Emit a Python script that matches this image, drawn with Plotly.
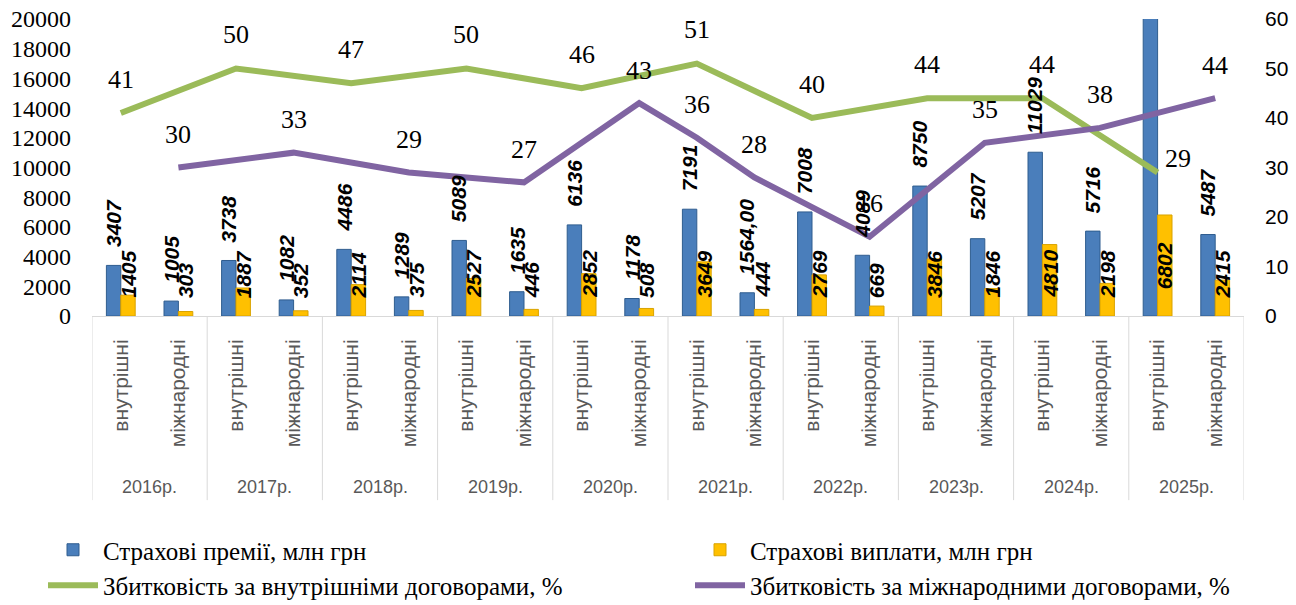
import plotly.graph_objects as go

# ---------------- data ----------------
years = ['2016р.', '2017р.', '2018р.', '2019р.', '2020р.',
         '2021р.', '2022р.', '2023р.', '2024р.', '2025р.']
kinds = ['внутрішні', 'міжнародні']

premiums = [3407, 1005, 3738, 1082, 4486, 1289, 5089, 1635, 6136, 1178,
            7191, 1564, 7008, 4089, 8750, 5207, 11029, 5716, 23455, 5487]
premium_labels = ['3407', '1005', '3738', '1082', '4486', '1289', '5089', '1635', '6136', '1178',
                  '7191', '1564,00', '7008', '4089', '8750', '5207', '11029', '5716', '23455', '5487']
payouts = [1405, 303, 1887, 352, 2114, 375, 2527, 446, 2852, 508,
           3649, 444, 2769, 669, 3846, 1846, 4810, 2198, 6802, 2415]

loss_domestic = [41, None, 50, None, 47, None, 50, None, 46, None,
                 51, None, 40, None, 44, None, 44, None, 29, None]
loss_international = [None, 30, None, 33, None, 29, None, 27, None, 43,
                      36, 28, None, 16, None, 35, None, 38, None, 44]

Y_MAX = 20000
Y2_MAX = 60

SERIF = 'Liberation Serif, Times New Roman, DejaVu Serif, serif'
SANS = 'Liberation Sans, Arial, DejaVu Sans, sans-serif'

# ---------------- figure ----------------
n = len(premiums)
xs = list(range(n))
tick_text = [kinds[i % 2] for i in xs]

fig = go.Figure()
fig.add_trace(go.Bar(
    x=xs, y=premiums, name='Страхові премії, млн грн', legend='legend', legendgroup='a',
    marker=dict(color='#4A7EBB', line=dict(color='#2F5D8F', width=1)),
))
fig.add_trace(go.Bar(
    x=xs, y=payouts, name='Страхові виплати, млн грн', legend='legend2', legendgroup='b',
    marker=dict(color='#FFC000', line=dict(color='#D9A300', width=1)),
))
fig.add_trace(go.Scatter(
    x=xs, y=loss_domestic, yaxis='y2', mode='lines', connectgaps=True,
    name='Збитковість за внутрішніми договорами, %', legend='legend', legendgroup='c',
    line=dict(color='#9BBB59', width=6),
))
fig.add_trace(go.Scatter(
    x=xs, y=loss_international, yaxis='y2', mode='lines', connectgaps=True,
    name='Збитковість за міжнародними договорами, %', legend='legend2', legendgroup='d',
    line=dict(color='#8064A2', width=6),
))

annotations = []
bar_font = dict(family=SANS, size=21, color='black')
# premium labels (above bars)
for i, (v, t) in enumerate(zip(premiums, premium_labels)):
    if v > Y_MAX:
        continue
    annotations.append(dict(x=i - 0.125, y=v, xref='x', yref='y', text='<b><i>%s</i></b>' % t,
                            textangle=-90, showarrow=False, xanchor='center', yanchor='bottom',
                            yshift=16, font=bar_font))
# payout labels
for i, v in enumerate(payouts):
    if v / 2 > 2900:
        annotations.append(dict(x=i + 0.125, y=v / 2, xref='x', yref='y', text='<b><i>%d</i></b>' % v,
                                textangle=-90, showarrow=False, xanchor='center', yanchor='middle',
                                font=bar_font))
    else:
        annotations.append(dict(x=i + 0.125, y=0, xref='x', yref='y', text='<b><i>%d</i></b>' % v,
                                textangle=-90, showarrow=False, xanchor='center', yanchor='bottom',
                                yshift=16, font=bar_font))
# line labels
line_font = dict(family=SERIF, size=26, color='black')
for i, v in enumerate(loss_domestic):
    if v is None:
        continue
    dx, dy = (20, 14) if i == n - 2 else (0, 34)
    annotations.append(dict(x=i, y=v, xref='x', yref='y2', text=str(v), showarrow=False,
                            xshift=dx, yshift=dy, font=line_font))
for i, v in enumerate(loss_international):
    if v is None:
        continue
    annotations.append(dict(x=i, y=v, xref='x', yref='y2', text=str(v), showarrow=False,
                            yshift=33, font=line_font))
# year labels
for k, yr in enumerate(years):
    annotations.append(dict(x=2 * k + 0.5, y=-0.576, xref='x', yref='paper', text=yr,
                            yanchor='middle', showarrow=False,
                            font=dict(family=SANS, size=18, color='#595959')))

shapes = []
for k in range(len(years) + 1):
    shapes.append(dict(type='line', xref='x', yref='paper', x0=2 * k - 0.5, x1=2 * k - 0.5,
                       y0=0, y1=-0.62, line=dict(color='#D9D9D9', width=1)))

legend_common = dict(orientation='v', xref='container', yref='container',
                     xanchor='left', yanchor='top', itemwidth=50, tracegroupgap=0,
                     font=dict(family=SERIF, size=25, color='black'),
                     bgcolor='rgba(0,0,0,0)')

fig.update_layout(
    width=1296, height=605,
    margin=dict(l=92, r=52, t=19, b=289, autoexpand=False),
    paper_bgcolor='white', plot_bgcolor='white',
    barmode='group', bargap=0.5, bargroupgap=0,
    showlegend=True,
    legend=dict(x=43 / 1296, y=1 - 527 / 605, **legend_common),
    legend2=dict(x=690 / 1296, y=1 - 527 / 605, **legend_common),
    xaxis=dict(range=[-0.5, n - 0.5], tickmode='array', tickvals=xs, ticktext=tick_text,
               tickangle=-90, showline=True, linecolor='#D9D9D9', linewidth=1,
               showgrid=False, zeroline=False, ticks='', ticklabelstandoff=14,
               tickfont=dict(family=SANS, size=21, color='#595959')),
    yaxis=dict(range=[0, Y_MAX], dtick=2000, tickformat='d', showgrid=False, zeroline=False,
               ticks='', ticklabelstandoff=20,
               tickfont=dict(family=SERIF, size=24, color='black')),
    yaxis2=dict(range=[0, Y2_MAX], dtick=10, overlaying='y', side='right', showgrid=False,
                zeroline=False, ticks='', ticklabelstandoff=20,
                tickfont=dict(family=SANS, size=21, color='black')),
    annotations=annotations,
    shapes=shapes,
)

fig.write_html('out.html', config={'displayModeBar': False},
               post_script="document.body.style.margin='0';document.body.style.overflow='hidden';")
